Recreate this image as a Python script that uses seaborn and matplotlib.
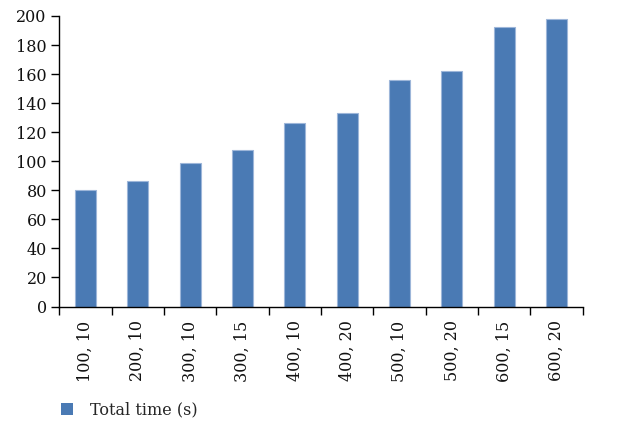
import matplotlib
matplotlib.use("Agg")
import matplotlib.pyplot as plt
from matplotlib.patches import Patch
from matplotlib.ticker import FixedLocator
import seaborn as sns
import pandas as pd

categories = ["100, 10", "200, 10", "300, 10", "300, 15", "400, 10",
              "400, 20", "500, 10", "500, 20", "600, 15", "600, 20"]
total_time = [80.0, 86.6, 98.8, 108.0, 126.3, 133.4, 155.9, 162.1, 192.2, 197.7]
y_ticks = [0, 20, 40, 60, 80, 100, 120, 140, 160, 180, 200]
series_label = "Total time (s)"

df = pd.DataFrame({"config": categories, "time": total_time})

sns.set_theme(style="white")
plt.rcParams["font.family"] = ["DejaVu Serif"]

bar_color = "#4a7ab4"
fs = 11.5
fig = plt.figure(figsize=(6.19, 4.23), dpi=100)
ax = fig.add_axes([0.0958, 0.2754, 0.8456, 0.6868])

sns.barplot(data=df, x="config", y="time", color=bar_color, width=0.4,
            saturation=1, edgecolor="#9db6d9", linewidth=0.8, ax=ax)

ax.set_xlim(-0.5, len(categories) - 0.5)
ax.set_ylim(0, 200)
ax.set_yticks(y_ticks)
ax.set_yticklabels([str(t) for t in y_ticks], fontsize=fs, color="#111111")
ax.set_xticks(range(len(categories)))
ax.set_xticklabels(categories, rotation=90, fontsize=fs, color="#111111")
ax.xaxis.set_minor_locator(FixedLocator([i - 0.5 for i in range(len(categories) + 1)]))
ax.tick_params(axis="x", which="major", length=0, pad=10)
ax.tick_params(axis="x", which="minor", length=6, width=1.0, color="black", direction="out", bottom=True)
ax.tick_params(axis="y", which="major", length=6, width=1.0, color="black", direction="out", left=True, pad=3)
ax.set_xlabel("")
ax.set_ylabel("")

for side in ["top", "right"]:
    ax.spines[side].set_visible(False)
for side in ["left", "bottom"]:
    ax.spines[side].set_color("black")
    ax.spines[side].set_linewidth(1.0)

handle = Patch(facecolor=bar_color, edgecolor="none", label=series_label)
fig.legend(handles=[handle], loc="center left", bbox_to_anchor=(0.075, 0.030),
           frameon=False, fontsize=fs, handlelength=0.75, handleheight=0.75,
           handletextpad=1.1)

fig.savefig("out.png", dpi=100)
